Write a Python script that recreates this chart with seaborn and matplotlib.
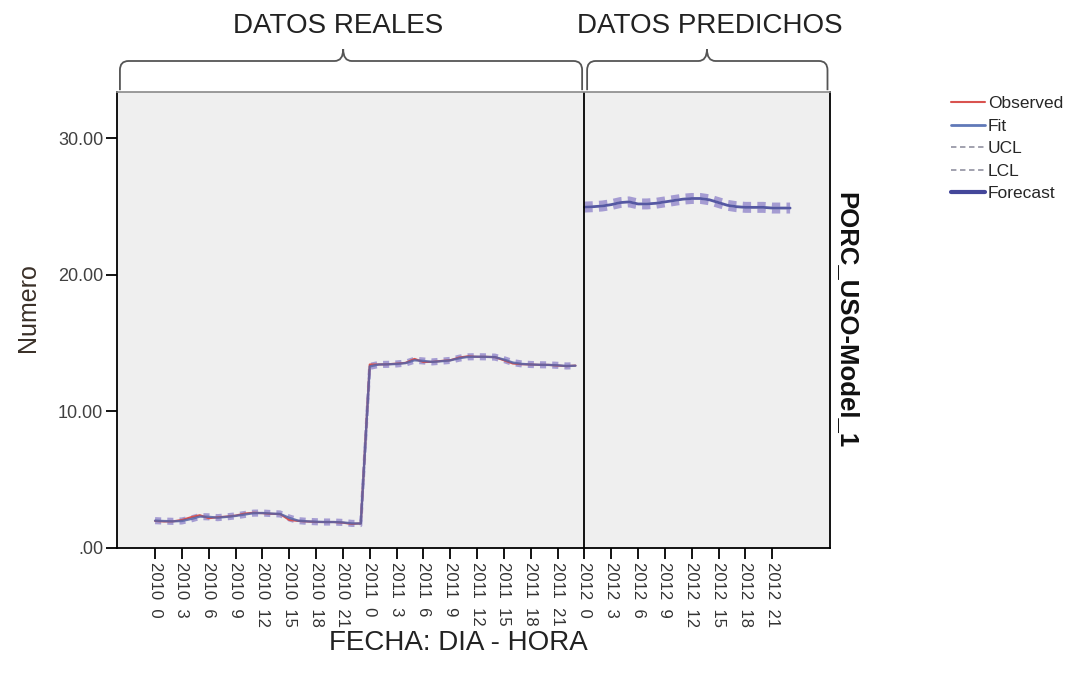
import matplotlib
matplotlib.use("Agg")
import matplotlib.pyplot as plt
from matplotlib.path import Path
from matplotlib.patches import PathPatch
from matplotlib.lines import Line2D
import seaborn as sns
import pandas as pd

# hourly index: 0-23 -> 2010, 24-47 -> 2011, 48-71 -> 2012
hours_hist = list(range(48))
hours_fc = list(range(48, 72))

observed = [1.98, 1.94, 1.95, 2.05, 2.25, 2.40, 2.18, 2.25, 2.30, 2.37, 2.52, 2.58,
            2.55, 2.50, 2.48, 2.05, 1.98, 1.94, 1.90, 1.90, 1.90, 1.85, 1.76, 1.80,
            13.44, 13.44, 13.46, 13.50, 13.56, 13.85, 13.62, 13.63, 13.70, 13.75, 13.95, 14.04,
            14.00, 14.00, 13.98, 13.75, 13.51, 13.46, 13.44, 13.41, 13.41, 13.36, 13.32, 13.36]
fit = [2.00, 1.97, 1.95, 1.98, 2.12, 2.30, 2.28, 2.22, 2.28, 2.35, 2.45, 2.55,
       2.56, 2.52, 2.49, 2.20, 2.00, 1.95, 1.92, 1.90, 1.90, 1.87, 1.80, 1.79,
       13.30, 13.44, 13.45, 13.48, 13.54, 13.75, 13.70, 13.63, 13.68, 13.74, 13.90, 14.00,
       14.01, 14.00, 13.98, 13.80, 13.58, 13.48, 13.44, 13.42, 13.41, 13.38, 13.33, 13.35]
ucl_hist = [2.15, 2.12, 2.10, 2.13, 2.27, 2.45, 2.43, 2.37, 2.43, 2.50, 2.60, 2.70,
            2.71, 2.67, 2.64, 2.35, 2.15, 2.10, 2.07, 2.05, 2.05, 2.02, 1.95, 1.94,
            13.45, 13.59, 13.60, 13.63, 13.69, 13.90, 13.85, 13.78, 13.83, 13.89, 14.05, 14.15,
            14.16, 14.15, 14.13, 13.95, 13.73, 13.63, 13.59, 13.57, 13.56, 13.53, 13.48, 13.50]
lcl_hist = [1.85, 1.82, 1.80, 1.83, 1.97, 2.15, 2.13, 2.07, 2.13, 2.20, 2.30, 2.40,
            2.41, 2.37, 2.34, 2.05, 1.85, 1.80, 1.77, 1.75, 1.75, 1.72, 1.65, 1.64,
            13.15, 13.29, 13.30, 13.33, 13.39, 13.60, 13.55, 13.48, 13.53, 13.59, 13.75, 13.85,
            13.86, 13.85, 13.83, 13.65, 13.43, 13.33, 13.29, 13.27, 13.26, 13.23, 13.18, 13.20]

forecast = [24.97, 25.00, 25.05, 25.15, 25.30, 25.35, 25.20, 25.20, 25.25, 25.35, 25.45, 25.55,
            25.60, 25.60, 25.50, 25.30, 25.10, 25.00, 24.95, 24.95, 24.95, 24.90, 24.90, 24.90]
ucl_fc = [25.22, 25.25, 25.30, 25.40, 25.55, 25.60, 25.45, 25.45, 25.50, 25.60, 25.70, 25.80,
          25.85, 25.85, 25.75, 25.55, 25.35, 25.25, 25.20, 25.20, 25.20, 25.15, 25.15, 25.15]
lcl_fc = [24.72, 24.75, 24.80, 24.90, 25.05, 25.10, 24.95, 24.95, 25.00, 25.10, 25.20, 25.30,
          25.35, 25.35, 25.25, 25.05, 24.85, 24.75, 24.70, 24.70, 24.70, 24.65, 24.65, 24.65]

tick_hours = [0, 3, 6, 9, 12, 15, 18, 21, 24, 27, 30, 33, 36, 39, 42, 45,
              48, 51, 54, 57, 60, 63, 66, 69]
tick_labels = ["2010  0", "2010  3", "2010  6", "2010  9", "2010  12", "2010  15", "2010  18", "2010  21",
               "2011  0", "2011  3", "2011  6", "2011  9", "2011  12", "2011  15", "2011  18", "2011  21",
               "2012  0", "2012  3", "2012  6", "2012  9", "2012  12", "2012  15", "2012  18", "2012  21"]
y_ticks = [0, 10, 20, 30]
y_labels = [".00", "10.00", "20.00", "30.00"]

hist = pd.DataFrame({"hora": hours_hist, "obs": observed, "fit": fit,
                     "ucl": ucl_hist, "lcl": lcl_hist})
pred = pd.DataFrame({"hora": hours_fc, "fc": forecast, "ucl": ucl_fc, "lcl": lcl_fc})

sns.set_style("white")
plt.rcParams["font.family"] = ["Liberation Sans", "DejaVu Sans"]

c_obs = "#d9534f"
c_fit = "#5563a8"
c_cl = "#a59cd2"
c_fc = "#44479a"

fig = plt.figure(figsize=(10.84, 6.77), dpi=100)
ax = fig.add_axes([0.108, 0.1906, 0.658, 0.6735])
ax.set_facecolor("#efefef")

# confidence limits
sns.lineplot(data=hist, x="hora", y="ucl", ax=ax, color=c_cl, linewidth=2.2, linestyle=(0, (2, 2)))
sns.lineplot(data=hist, x="hora", y="lcl", ax=ax, color=c_cl, linewidth=2.2, linestyle=(0, (2, 2)))
sns.lineplot(data=pred, x="hora", y="ucl", ax=ax, color=c_cl, linewidth=3, linestyle=(0, (2, 1.5)))
sns.lineplot(data=pred, x="hora", y="lcl", ax=ax, color=c_cl, linewidth=3, linestyle=(0, (2, 1.5)))
# observed / fit / forecast
sns.lineplot(data=hist, x="hora", y="obs", ax=ax, color=c_obs, linewidth=1.5)
sns.lineplot(data=hist, x="hora", y="fit", ax=ax, color=c_fit, linewidth=1.7, alpha=0.85)
sns.lineplot(data=pred, x="hora", y="fc", ax=ax, color=c_fc, linewidth=2.0, alpha=0.9)

# separator between real and predicted
ax.axvline(48, color="black", linewidth=1.3)

ax.set_xlim(-4.25, 75.5)
ax.set_ylim(0, 33.4)
ax.set_xticks(tick_hours)
ax.set_xticklabels(tick_labels, rotation=270, fontsize=12, color="#333333")
ax.set_yticks(y_ticks)
ax.set_yticklabels(y_labels, fontsize=13, color="#404040")
ax.tick_params(axis="both", direction="out", length=8, width=1.3, color="black",
               bottom=True, left=True, pad=2)
ax.set_xlabel("")
ax.set_ylabel("")

for side in ["left", "bottom", "right"]:
    ax.spines[side].set_color("black")
    ax.spines[side].set_linewidth(1.3)
ax.spines["top"].set_color("#8a8a8a")
ax.spines["top"].set_linewidth(1.2)


def brace(ax, x0, x1, xm, yb=1.004, yh=1.068, ytip=1.094, rx=0.012, ry=0.02):
    verts = [(x0, yb), (x0, yh - ry), (x0, yh), (x0 + rx, yh),
             (xm - rx, yh), (xm, yh), (xm, ytip),
             (xm, yh), (xm + rx, yh),
             (x1 - rx, yh), (x1, yh), (x1, yh - ry), (x1, yb)]
    codes = [Path.MOVETO, Path.LINETO, Path.CURVE3, Path.CURVE3,
             Path.LINETO, Path.CURVE3, Path.CURVE3,
             Path.CURVE3, Path.CURVE3, Path.LINETO,
             Path.CURVE3, Path.CURVE3, Path.LINETO]
    patch = PathPatch(Path(verts, codes), facecolor="none", edgecolor="#555555",
                      linewidth=1.3, transform=ax.transAxes, clip_on=False)
    ax.add_patch(patch)


brace(ax, 0.004, 0.652, 0.317)
brace(ax, 0.659, 0.996, 0.827)
ax.text(0.310, 1.145, "DATOS REALES", transform=ax.transAxes, ha="center", va="center",
        fontsize=20, color="#222222")
ax.text(0.831, 1.145, "DATOS PREDICHOS", transform=ax.transAxes, ha="center", va="center",
        fontsize=20, color="#222222")

fig.text(0.781, 0.527, "PORC_USO-Model_1", rotation=270, ha="center", va="center",
         fontsize=18.5, fontweight="bold", color="#111111")
fig.text(0.4225, 0.05, "FECHA: DIA - HORA", ha="center", va="center", fontsize=20, color="#222222")
fig.text(0.026, 0.545, "Numero", rotation=90, ha="center", va="center", fontsize=18, color="#3a3028")

handles = [Line2D([], [], color=c_obs, linewidth=1.5),
           Line2D([], [], color="#6079b8", linewidth=2),
           Line2D([], [], color="#9a9aa8", linewidth=1.3, linestyle=(0, (3, 2))),
           Line2D([], [], color="#9a9aa8", linewidth=1.3, linestyle=(0, (3, 2))),
           Line2D([], [], color=c_fc, linewidth=3)]
fig.legend(handles, ["Observed", "Fit", "UCL", "LCL", "Forecast"], loc="upper left",
           bbox_to_anchor=(0.877, 0.858), frameon=False, fontsize=12.5, handlelength=2.0,
           handletextpad=0.15, labelspacing=0.42, borderaxespad=0, borderpad=0)

fig.savefig("out.png", dpi=100)
